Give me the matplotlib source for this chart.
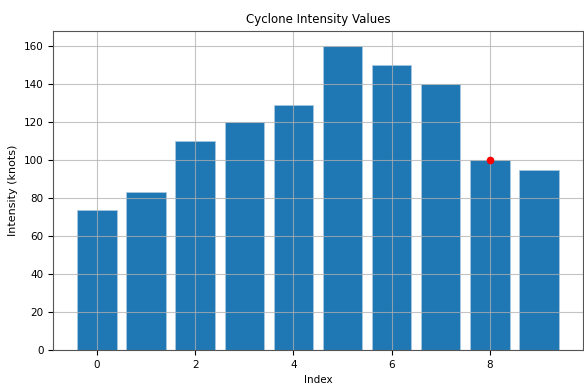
import matplotlib.pyplot as plt

indices = list(range(10))
intensity = [74, 83, 110, 120, 129, 160, 150, 140, 100, 95]
marked_index = [8]
marked_value = [100]

fig, ax = plt.subplots(figsize=(5.84, 3.85), dpi=100)
fig.subplots_adjust(left=0.091, right=0.998, top=0.919, bottom=0.091)

ax.bar(indices, intensity, color="#1f77b4", edgecolor="#a9c8e0", linewidth=0.6)
ax.plot(marked_index, marked_value, "o", color="red", markersize=4.5)

ax.set_title("Cyclone Intensity Values", fontsize=8.5)
ax.set_xlabel("Index", fontsize=7.5)
ax.set_ylabel("Intensity (knots)", fontsize=8)
ax.tick_params(labelsize=7.5)
ax.grid(True, alpha=0.75)
for spine in ax.spines.values():
    spine.set_color("#555555")

plt.savefig("out.png")
plt.close()
